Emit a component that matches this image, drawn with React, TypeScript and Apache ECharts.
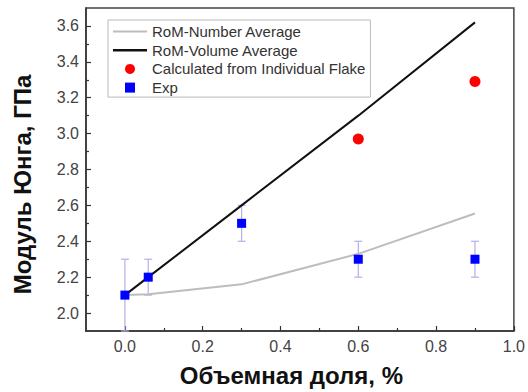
import React, { useEffect, useRef } from "react";
import * as echarts from "echarts";

const xPoints = [0, 0.06, 0.3, 0.6, 0.9];
const numberAverage = [2.1, 2.105, 2.16, 2.33, 2.555];
const volumeAverage = [2.1, 2.2, 2.6, 3.1, 3.62];
const calcX = [0.6, 0.9];
const calcY = [2.97, 3.29];
const expX = [0, 0.06, 0.3, 0.6, 0.9];
const expY = [2.1, 2.2, 2.5, 2.3, 2.3];
const expErr = [0.2, 0.1, 0.1, 0.1, 0.1];

const xMajor = [0, 0.2, 0.4, 0.6, 0.8, 1.0];
const xMinor = [0.1, 0.3, 0.5, 0.7, 0.9];
const yMajor = [2.0, 2.2, 2.4, 2.6, 2.8, 3.0, 3.2, 3.4, 3.6];
const yMinor = [2.1, 2.3, 2.5, 2.7, 2.9, 3.1, 3.3, 3.5];

const FONT = "'Liberation Sans', Arial, sans-serif";

export default function App() {
  const ref = useRef<HTMLDivElement>(null);
  useEffect(() => {
    if (!ref.current) return;
    const chart = echarts.init(ref.current, undefined, { renderer: "svg" });
    const axisColor = "#333";
    const labelStyle = { color: "#444", fontSize: 16, fontFamily: FONT };
    chart.setOption({
      animation: false,
      backgroundColor: "#fff",
      grid: {
        left: 86,
        right: 10,
        top: 8,
        bottom: 60,
        show: true,
        borderColor: "#444",
        borderWidth: 1.5,
        containLabel: false,
      },
      legend: {
        orient: "vertical",
        left: 108,
        top: 20,
        padding: [4, 5, 2, 5],
        itemGap: 3.7,
        itemWidth: 34,
        itemHeight: 10,
        borderColor: "#bbb",
        borderWidth: 1,
        backgroundColor: "#fff",
        symbolKeepAspect: true,
        textStyle: { fontSize: 15, fontFamily: FONT, color: "#333", padding: [0, 2, 0, 0] },
        data: [
          { name: "RoM-Number Average", icon: "path://M0,0H34V2H0Z" },
          { name: "RoM-Volume Average", icon: "path://M0,0H34V2.4H0Z" },
          { name: "Calculated from Individual Flake", icon: "circle" },
          { name: "Exp", icon: "path://M0,0H9V9H0Z" },
        ],
      },
      xAxis: [
        {
          type: "value",
          min: -0.1,
          max: 1.0,
          position: "bottom",
          splitLine: { show: false },
          axisLine: { show: true, onZero: false, lineStyle: { color: axisColor, width: 1.5 } },
          axisTick: {
            show: true,
            inside: true,
            length: 5,
            customValues: xMajor,
            lineStyle: { color: axisColor, width: 1.2 },
          },
          axisLabel: {
            ...labelStyle,
            margin: 7,
            customValues: xMajor,
            formatter: (v: number) => v.toFixed(1),
          },
          name: "Объемная доля, %",
          nameLocation: "middle",
          nameGap: 32,
          nameTextStyle: {
            fontSize: 24,
            fontWeight: "bold",
            fontFamily: FONT,
            color: "#111",
            padding: [0, 17, 0, 0],
          },
        },
        {
          type: "value",
          min: -0.1,
          max: 1.0,
          position: "bottom",
          splitLine: { show: false },
          axisLine: { show: false, onZero: false },
          axisTick: {
            show: true,
            inside: true,
            length: 3,
            customValues: xMinor,
            lineStyle: { color: axisColor, width: 1.2 },
          },
          axisLabel: { show: false },
        },
      ],
      yAxis: [
        {
          type: "value",
          min: 1.9,
          max: 3.7,
          position: "left",
          splitLine: { show: false },
          axisLine: { show: true, onZero: false, lineStyle: { color: axisColor, width: 1.5 } },
          axisTick: {
            show: true,
            inside: true,
            length: 5,
            customValues: yMajor,
            lineStyle: { color: axisColor, width: 1.2 },
          },
          axisLabel: {
            ...labelStyle,
            margin: 7,
            customValues: yMajor,
            formatter: (v: number) => v.toFixed(1),
          },
          name: "Модуль Юнга, ГПа",
          nameLocation: "middle",
          nameGap: 52,
          nameTextStyle: {
            fontSize: 24,
            fontWeight: "bold",
            fontFamily: FONT,
            color: "#111",
            padding: [0, 30, 0, 0],
          },
        },
        {
          type: "value",
          min: 1.9,
          max: 3.7,
          position: "left",
          splitLine: { show: false },
          axisLine: { show: false, onZero: false },
          axisTick: {
            show: true,
            inside: true,
            length: 3,
            customValues: yMinor,
            lineStyle: { color: axisColor, width: 1.2 },
          },
          axisLabel: { show: false },
        },
      ],
      series: [
        {
          type: "custom",
          name: "errors",
          xAxisIndex: 0,
          yAxisIndex: 0,
          encode: { x: 0, y: [1, 2] },
          z: 2,
          data: expX.map((x, i) => [x, expY[i] - expErr[i], expY[i] + expErr[i]]),
          renderItem: (params: any, api: any) => {
            const x = api.value(0);
            const lo = api.coord([x, api.value(1)]);
            const hi = api.coord([x, api.value(2)]);
            const style = { stroke: "#b0b0ec", lineWidth: 1.2 };
            const cap = 4;
            return {
              type: "group",
              children: [
                { type: "line", shape: { x1: hi[0], y1: hi[1], x2: lo[0], y2: lo[1] }, style },
                { type: "line", shape: { x1: hi[0] - cap, y1: hi[1], x2: hi[0] + cap, y2: hi[1] }, style },
                { type: "line", shape: { x1: lo[0] - cap, y1: lo[1], x2: lo[0] + cap, y2: lo[1] }, style },
              ],
            };
          },
        },
        {
          type: "line",
          name: "RoM-Number Average",
          data: xPoints.map((x, i) => [x, numberAverage[i]]),
          symbol: "none",
          lineStyle: { color: "#bdbdbd", width: 2 },
          itemStyle: { color: "#bdbdbd" },
          z: 3,
        },
        {
          type: "line",
          name: "RoM-Volume Average",
          data: xPoints.map((x, i) => [x, volumeAverage[i]]),
          symbol: "none",
          lineStyle: { color: "#111", width: 2 },
          itemStyle: { color: "#111" },
          z: 3,
        },
        {
          type: "scatter",
          name: "Calculated from Individual Flake",
          data: calcX.map((x, i) => [x, calcY[i]]),
          symbol: "circle",
          symbolSize: 11,
          itemStyle: { color: "#ff0000", opacity: 1 },
          z: 4,
        },
        {
          type: "scatter",
          name: "Exp",
          data: expX.map((x, i) => [x, expY[i]]),
          symbol: "rect",
          symbolSize: 9,
          itemStyle: { color: "#0000ff", opacity: 1 },
          z: 5,
        },
      ],
    });
    return () => chart.dispose();
  }, []);
  return <div ref={ref} style={{ width: 528, height: 392, position: "absolute", left: 0, top: 0 }} />;
}
